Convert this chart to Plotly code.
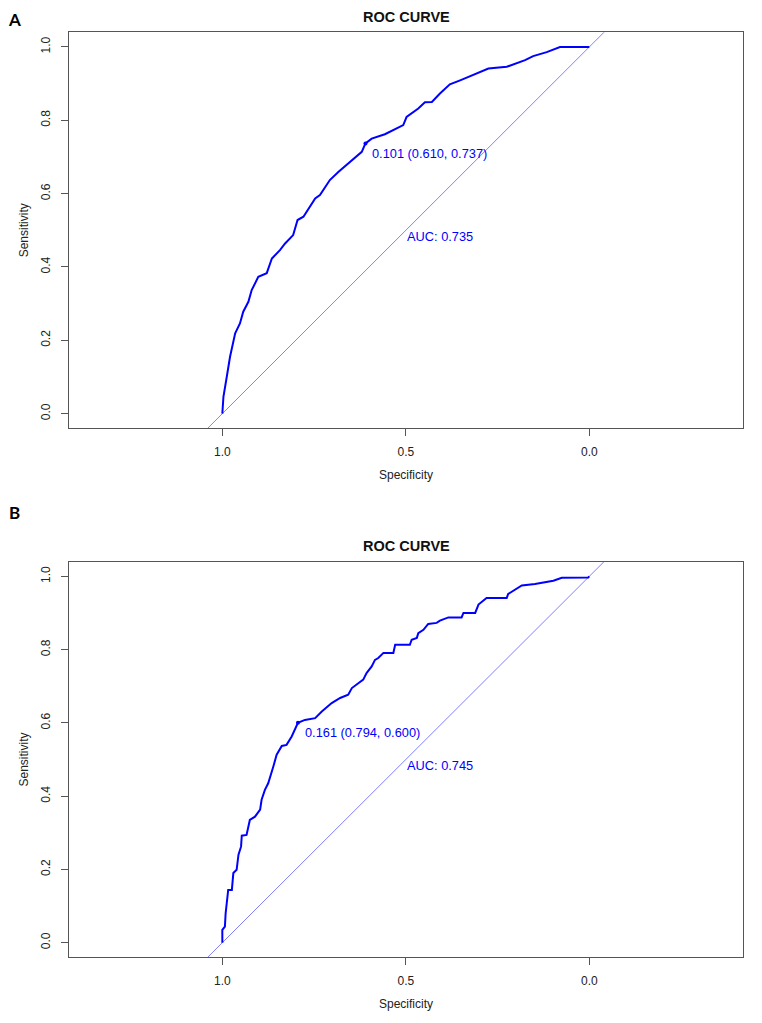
import plotly.graph_objects as go

# ---------------- data ----------------
A_spec = [1.0, 0.997, 0.988, 0.979, 0.965, 0.952, 0.943, 0.929, 0.920, 0.902, 0.879, 0.865, 0.843,
          0.829, 0.807, 0.795, 0.779, 0.761, 0.747, 0.734, 0.720, 0.707, 0.684, 0.657, 0.634, 0.620,
          0.610, 0.593, 0.557, 0.525, 0.507, 0.498, 0.466, 0.448, 0.429, 0.407, 0.380, 0.352, 0.316,
          0.275, 0.225, 0.175, 0.153, 0.116, 0.080, 0.0]
A_sens = [0.0, 0.046, 0.100, 0.155, 0.219, 0.246, 0.278, 0.305, 0.337, 0.373, 0.383, 0.423, 0.446,
          0.464, 0.487, 0.528, 0.537, 0.564, 0.587, 0.596, 0.619, 0.637, 0.659, 0.682, 0.700, 0.714,
          0.737, 0.750, 0.762, 0.778, 0.787, 0.809, 0.832, 0.849, 0.850, 0.873, 0.898, 0.909, 0.925,
          0.941, 0.946, 0.964, 0.975, 0.986, 1.0, 1.0]

B_spec = [1.0, 1.0, 0.993, 0.991, 0.984, 0.974, 0.970, 0.961, 0.956, 0.949, 0.947, 0.934, 0.925,
          0.911, 0.897, 0.893, 0.884, 0.875, 0.861, 0.852, 0.838, 0.825, 0.811, 0.802, 0.794, 0.775,
          0.747, 0.729, 0.702, 0.679, 0.657, 0.647, 0.629, 0.616, 0.607, 0.593, 0.584, 0.575, 0.561,
          0.534, 0.529, 0.489, 0.484, 0.470, 0.466, 0.452, 0.439, 0.416, 0.407, 0.384, 0.348, 0.343,
          0.311, 0.302, 0.280, 0.225, 0.221, 0.193, 0.184, 0.148, 0.121, 0.098, 0.075, 0.003, 0.0]
B_sens = [0.0, 0.035, 0.044, 0.080, 0.144, 0.144, 0.190, 0.199, 0.240, 0.262, 0.292, 0.294, 0.335,
          0.344, 0.363, 0.390, 0.417, 0.435, 0.481, 0.513, 0.537, 0.540, 0.563, 0.581, 0.600, 0.608,
          0.613, 0.631, 0.654, 0.668, 0.677, 0.695, 0.709, 0.718, 0.736, 0.754, 0.772, 0.777, 0.791,
          0.791, 0.813, 0.813, 0.827, 0.832, 0.845, 0.854, 0.870, 0.873, 0.879, 0.888, 0.888, 0.900,
          0.900, 0.923, 0.941, 0.941, 0.952, 0.970, 0.975, 0.979, 0.985, 0.988, 0.996, 0.997, 1.0]

thresholds = ["0.101", "0.161"]
thr_spec = [0.610, 0.794]
thr_sens = [0.737, 0.600]
auc_values = [0.735, 0.745]
panel_labels = ["A", "B"]
x_ticks = [1.0, 0.5, 0.0]
y_ticks = [0.0, 0.2, 0.4, 0.6, 0.8, 1.0]

# ---------------- layout geometry ----------------
PAGE_W, PAGE_H = 762, 1023
OFF = 8  # default body margin of the html page
W, H = PAGE_W - 2 * OFF, PAGE_H - 2 * OFF


def px_x(p):
    return (p - OFF) / W


def px_y(p):
    return 1 - (p - OFF) / H


X_RANGE = [1.417, -0.418]
Y_RANGE = [-0.04, 1.04]
xdom = [px_x(69.3), px_x(742.7)]
ydoms = [[px_y(428.3), px_y(32.3)], [px_y(957.3), px_y(561.7)]]
box_tops = [32.3, 561.7]

CURVE = "#0000FF"
DIAG = "rgb(128,128,255)"
AXC = "#555555"
TXT = "#222222"
FONT = "Liberation Sans, Arial, sans-serif"

fig = go.Figure()
curves = [(A_spec, A_sens), (B_spec, B_sens)]

for i in range(2):
    xa = "x" if i == 0 else "x2"
    ya = "y" if i == 0 else "y2"
    spec, sens = curves[i]
    # identity reference line sens = 1 - spec across the full axis range
    fig.add_trace(go.Scatter(x=X_RANGE, y=[1 - v for v in X_RANGE], mode="lines",
                             line=dict(color=DIAG, width=1), xaxis=xa, yaxis=ya,
                             showlegend=False, hoverinfo="skip"))
    fig.add_trace(go.Scatter(x=spec, y=sens, mode="lines",
                             line=dict(color=CURVE, width=2), xaxis=xa, yaxis=ya,
                             showlegend=False))
    fig.add_trace(go.Scatter(x=[thr_spec[i]], y=[thr_sens[i]], mode="markers",
                             marker=dict(color=CURVE, size=4), xaxis=xa, yaxis=ya,
                             showlegend=False))
    fig.add_annotation(x=thr_spec[i], y=thr_sens[i], xref=xa, yref=ya,
                       text=f"{thresholds[i]} ({thr_spec[i]:.3f}, {thr_sens[i]:.3f})",
                       showarrow=False, xanchor="left", yanchor="middle",
                       xshift=5, yshift=-10, font=dict(family=FONT, size=12.8, color=CURVE))
    fig.add_annotation(x=0.5, y=0.5, xref=xa, yref=ya,
                       text=f"AUC: {auc_values[i]:.3f}",
                       showarrow=False, xanchor="left", yanchor="middle",
                       xshift=-1, yshift=-6, font=dict(family=FONT, size=12.8, color=CURVE))

    axis_common = dict(showline=True, mirror=True, linecolor=AXC, linewidth=1,
                       ticks="outside", ticklen=7, tickcolor=AXC, tickwidth=1,
                       showgrid=False, zeroline=False, tickformat=".1f",
                       tickfont=dict(family=FONT, size=12, color=TXT))
    xkey = "xaxis" if i == 0 else "xaxis2"
    ykey = "yaxis" if i == 0 else "yaxis2"
    fig.update_layout(**{
        xkey: dict(axis_common, domain=xdom, range=X_RANGE, tickvals=x_ticks,
                   anchor=ya, ticklabelstandoff=5,
                   title=dict(text="Specificity", standoff=12,
                              font=dict(family=FONT, size=12, color=TXT))),
        ykey: dict(axis_common, domain=ydoms[i], range=Y_RANGE, tickvals=y_ticks,
                   anchor=xa, tickangle=-90, ticklabelstandoff=7,
                   title=dict(text="Sensitivity", standoff=7,
                              font=dict(family=FONT, size=12, color=TXT))),
    })
    # panel title
    fig.add_annotation(x=(xdom[0] + xdom[1]) / 2, y=px_y(box_tops[i] - 15.5),
                       xref="paper", yref="paper", text="<b>ROC CURVE</b>",
                       showarrow=False, xanchor="center", yanchor="middle",
                       font=dict(family=FONT, size=14.5, color="#111111"))

# panel letters
fig.add_annotation(x=px_x(15), y=1.0, xref="paper", yref="paper",
                   text=f"<b>{panel_labels[0]}</b>", showarrow=False,
                   xanchor="center", yanchor="top", borderpad=0,
                   font=dict(family="Lato, Liberation Sans, sans-serif", size=17, color="#000000"))
fig.add_annotation(x=px_x(14), y=px_y(512.3), xref="paper", yref="paper",
                   text=f"<b>{panel_labels[1]}</b>", showarrow=False,
                   xanchor="center", yanchor="middle",
                   font=dict(family="Lato, Liberation Sans, sans-serif", size=17, color="#000000"))

fig.update_layout(width=W, height=H, margin=dict(l=0, r=0, t=0, b=0),
                  plot_bgcolor="white", paper_bgcolor="white", showlegend=False)

fig.write_html("out.html")
